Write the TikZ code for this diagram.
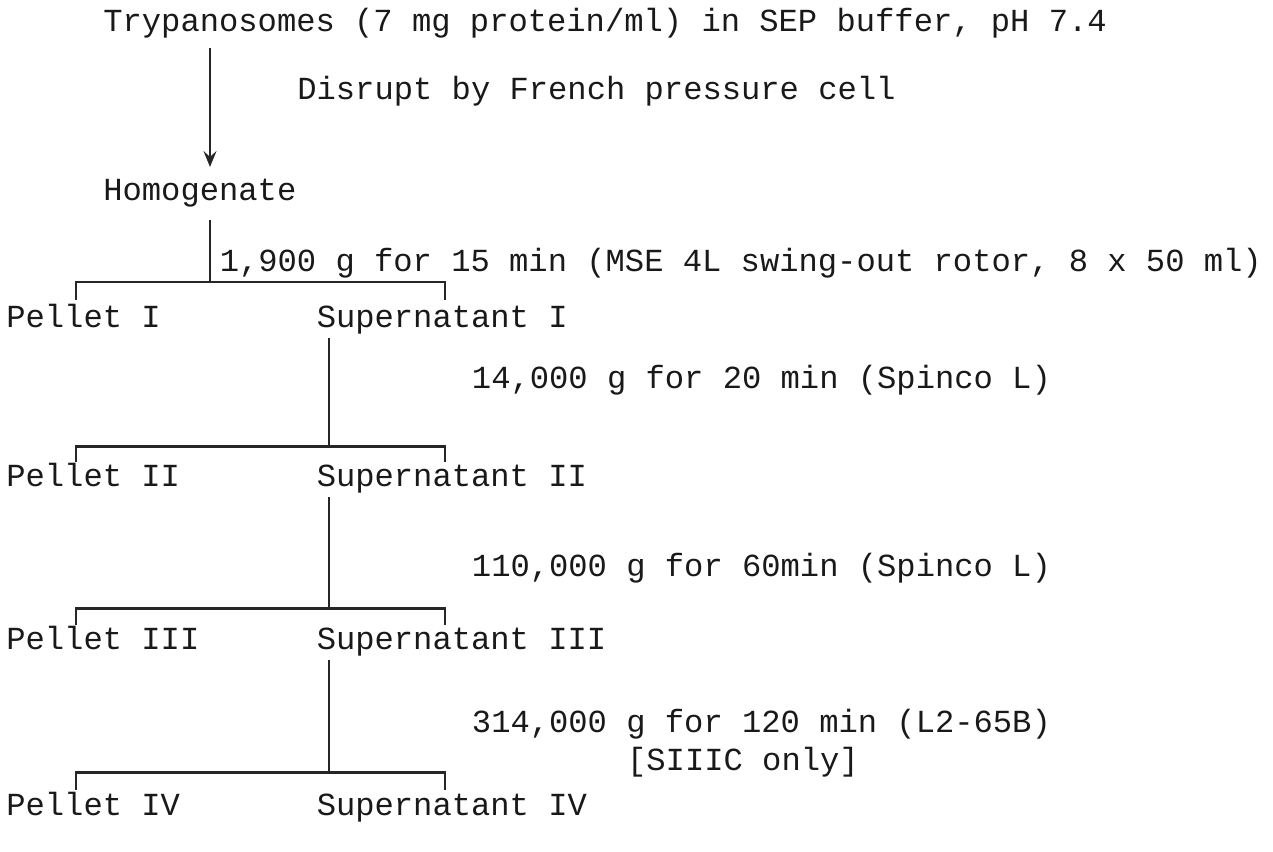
\documentclass[tikz,border=0pt]{standalone}
\usepackage{fontspec}
\setmainfont{Liberation Mono}
\usetikzlibrary{arrows.meta}
\frenchspacing

\begin{document}
\begin{tikzpicture}[
  x=0.2mm, y=-0.2mm,
  font=\fontsize{18.3}{22}\selectfont,
  txt/.style={anchor=base west, inner sep=0pt, text=black!90},
  stem/.style={line width=1.3pt, draw=black!85},
  fork/.style={line width=1.7pt, draw=black!85, line join=miter},
  feed/.style={stem, -{Stealth[length=3.2mm, width=2.6mm, inset=1.2mm]}}
]
\useasboundingbox (0,0) rectangle (1273,851);

\def\xo{6}
\def\pitch{19.4}
\def\xa{210}
\def\xb{329}
\def\xl{76}
\def\xr{445}

% Starting material and disruption.
\node[txt] (cells) at ({\xo+5*\pitch},31)
  {Trypanosomes (7 mg protein/ml) in SEP buffer, pH 7.4};
\node[txt] (disrupt) at ({\xo+15*\pitch},99) {Disrupt by French pressure cell};
\node[txt] (hom) at ({\xo+5*\pitch},200) {Homogenate};

\coordinate (a0) at (\xa,48);
\coordinate (a1) at (\xa,167);
\draw[feed] (a0) -- (a1);

% Centrifugation steps.
\node[txt] (spin1) at ({\xo+11*\pitch},271)
  {1,900 g for 15 min (MSE 4L swing-out rotor, 8 x 50 ml)};
\node[txt] (spin2) at ({\xo+24*\pitch},388) {14,000 g for 20 min (Spinco L)};
\node[txt] (spin3) at ({\xo+24*\pitch},576) {110,000 g for 60min (Spinco L)};
\node[txt] (spin4) at ({\xo+24*\pitch},732) {314,000 g for 120 min (L2-65B)};
\node[txt] (spin4b) at ({\xo+32*\pitch},770) {[SIIIC only]};

% Fractions.
\node[txt] (pel1) at (\xo,327) {Pellet I};
\node[txt] (sup1) at ({\xo+16*\pitch},327) {Supernatant I};
\node[txt] (pel2) at (\xo,486) {Pellet II};
\node[txt] (sup2) at ({\xo+16*\pitch},486) {Supernatant II};
\node[txt] (pel3) at (\xo,649) {Pellet III};
\node[txt] (sup3) at ({\xo+16*\pitch},649) {Supernatant III};
\node[txt] (pel4) at (\xo,815) {Pellet IV};
\node[txt] (sup4) at ({\xo+16*\pitch},815) {Supernatant IV};

% Stems and forks.
\coordinate (s1) at (\xa,220);
\coordinate (f1) at (\xa,282);
\draw[stem] (s1) -- (f1);
\draw[fork] (\xl,300) -- (\xl,282) -- (\xr,282) -- (\xr,300);

\coordinate (s2) at (\xb,338);
\coordinate (f2) at (\xb,446);
\draw[stem] (s2) -- (f2);
\draw[fork] (\xl,462) -- (\xl,446) -- (\xr,446) -- (\xr,462);

\coordinate (s3) at (\xb,497);
\coordinate (f3) at (\xb,608);
\draw[stem] (s3) -- (f3);
\draw[fork] (\xl,625) -- (\xl,608) -- (\xr,608) -- (\xr,625);

\coordinate (s4) at (\xb,660);
\coordinate (f4) at (\xb,772);
\draw[stem] (s4) -- (f4);
\draw[fork] (\xl,790) -- (\xl,772) -- (\xr,772) -- (\xr,790);

\end{tikzpicture}
\end{document}
